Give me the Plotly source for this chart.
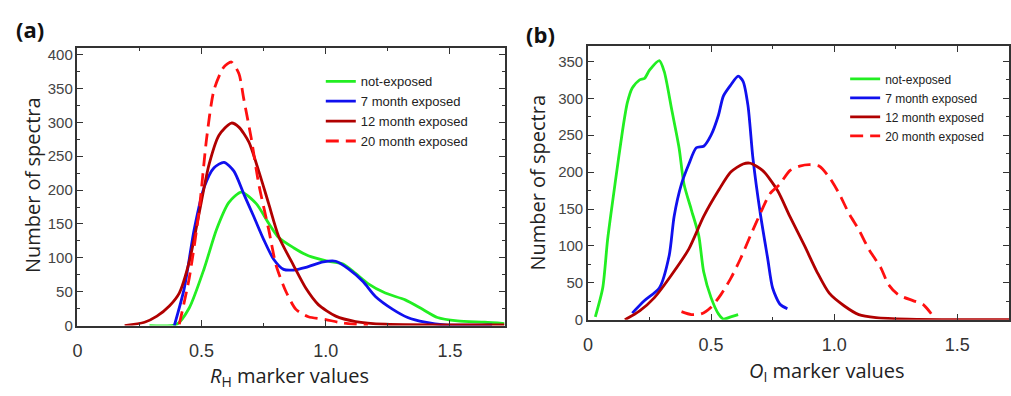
import plotly.graph_objects as go

W, H = 1011, 396

# ---------------- Panel (a): R_H marker values ----------------
a_green_x = [0.29, 0.40, 0.45, 0.51, 0.56, 0.61, 0.66, 0.72, 0.77, 0.81, 0.87, 0.93, 1.01, 1.07, 1.12, 1.17, 1.24, 1.32, 1.39, 1.45, 1.53, 1.64, 1.72]
a_green_y = [0, 2, 26, 84, 142, 182, 197, 180, 151, 130, 115, 103, 95, 91, 77, 62, 48, 38, 24, 12, 7, 5, 3]

a_blue_x = [0.39, 0.43, 0.47, 0.51, 0.55, 0.59, 0.63, 0.67, 0.71, 0.75, 0.79, 0.83, 0.87, 0.92, 0.99, 1.04, 1.09, 1.15, 1.20, 1.27, 1.33, 1.40, 1.48, 1.67]
a_blue_y = [0, 55, 142, 204, 233, 241, 228, 194, 161, 127, 98, 83, 82, 86, 94, 95, 84, 65, 43, 24, 12, 5, 1, 1]

a_dred_x = [0.19, 0.27, 0.32, 0.37, 0.41, 0.45, 0.49, 0.53, 0.57, 0.62, 0.65, 0.69, 0.73, 0.77, 0.81, 0.87, 0.92, 0.97, 1.04, 1.12, 1.24, 1.72]
a_dred_y = [0, 5, 14, 29, 48, 94, 166, 238, 281, 299, 293, 271, 228, 180, 132, 89, 55, 31, 14, 6, 2, 1]

a_red_x = [0.41, 0.45, 0.49, 0.52, 0.55, 0.59, 0.62, 0.65, 0.67, 0.70, 0.73, 0.77, 0.80, 0.84, 0.88, 0.93, 1.00, 1.05, 1.12, 1.17]
a_red_y = [2, 70, 170, 276, 348, 382, 389, 372, 334, 276, 209, 142, 89, 50, 24, 13, 9, 5, 2, 1]

# ---------------- Panel (b): O_I marker values ----------------
b_green_x = [0.03, 0.06, 0.08, 0.11, 0.14, 0.16, 0.18, 0.21, 0.23, 0.25, 0.29, 0.31, 0.34, 0.37, 0.39, 0.42, 0.45, 0.47, 0.50, 0.53, 0.55, 0.58, 0.61]
b_green_y = [4, 43, 109, 184, 255, 294, 314, 325, 327, 338, 351, 336, 285, 233, 184, 149, 114, 65, 30, 8, 1, 4, 7]

b_blue_x = [0.18, 0.23, 0.29, 0.33, 0.35, 0.38, 0.41, 0.44, 0.47, 0.50, 0.53, 0.55, 0.58, 0.61, 0.63, 0.65, 0.67, 0.70, 0.73, 0.75, 0.78, 0.81]
b_blue_y = [9, 26, 43, 87, 140, 184, 211, 233, 235, 250, 277, 303, 318, 330, 323, 290, 219, 144, 83, 43, 21, 15]

b_dred_x = [0.15, 0.21, 0.27, 0.34, 0.41, 0.47, 0.53, 0.58, 0.63, 0.66, 0.71, 0.77, 0.82, 0.88, 0.93, 0.98, 1.04, 1.10, 1.17, 1.30, 1.71]
b_dred_y = [0, 12, 30, 61, 96, 140, 175, 200, 211, 212, 202, 175, 140, 100, 65, 36, 19, 7, 3, 1, 0]

b_red_x = [0.38, 0.42, 0.46, 0.50, 0.54, 0.58, 0.62, 0.66, 0.70, 0.74, 0.78, 0.82, 0.86, 0.90, 0.94, 0.98, 1.02, 1.06, 1.10, 1.14, 1.19, 1.22, 1.26, 1.32, 1.36, 1.39, 1.41]
b_red_y = [11, 7, 8, 17, 34, 56, 83, 114, 144, 171, 184, 202, 208, 210, 208, 193, 171, 144, 122, 96, 70, 48, 34, 26, 21, 10, 0]

series_names = ["not-exposed", "7 month exposed", "12 month exposed", "20 month exposed"]
series_colors = ["#22ee22", "#1010ee", "#b00000", "#ff1010"]
series_dash = ["solid", "solid", "solid", "13px,7px"]

x_tickvals = [0, 0.5, 1.0, 1.5]
x_ticktext = ["0", "0.5", "1.0", "1.5"]
a_y_tickvals = [0, 50, 100, 150, 200, 250, 300, 350, 400]
b_y_tickvals = [0, 50, 100, 150, 200, 250, 300, 350]

fig = go.Figure()

a_data = [(a_green_x, a_green_y), (a_blue_x, a_blue_y), (a_dred_x, a_dred_y), (a_red_x, a_red_y)]
b_data = [(b_green_x, b_green_y), (b_blue_x, b_blue_y), (b_dred_x, b_dred_y), (b_red_x, b_red_y)]

for i, (xs, ys) in enumerate(a_data):
    fig.add_trace(go.Scatter(x=xs, y=ys, mode="lines", name=series_names[i],
                             line=dict(color=series_colors[i], width=2.8, dash=series_dash[i], shape="spline", smoothing=0.7),
                             xaxis="x", yaxis="y", legend="legend"))
for i, (xs, ys) in enumerate(b_data):
    fig.add_trace(go.Scatter(x=xs, y=ys, mode="lines", name=series_names[i],
                             line=dict(color=series_colors[i], width=2.8, dash=series_dash[i], shape="spline", smoothing=0.7),
                             xaxis="x2", yaxis="y2", legend="legend2"))

def px_x(p):
    return p / W

def px_y(p):
    return 1 - p / H

axis_common = dict(showline=True, linecolor="#333333", linewidth=1.5, mirror="ticks",
                   ticks="inside", ticklen=6, tickwidth=1.2, tickcolor="#333333",
                   showgrid=False, zeroline=False)

xfont = dict(family="Liberation Sans, Arial", size=18, color="#333333")
yfont = dict(family="Liberation Sans, Arial", size=15, color="#444444")

fig.update_layout(
    width=W, height=H, margin=dict(l=0, r=0, t=0, b=0),
    paper_bgcolor="white", plot_bgcolor="white",
    xaxis=dict(domain=[px_x(73), px_x(503)], range=[0, 1.72], anchor="y",
               tickvals=x_tickvals, ticktext=x_ticktext, tickfont=xfont, ticklabelstandoff=8,
               minor=dict(ticks="inside", ticklen=3, tickvals=[0.25, 0.75, 1.25], tickcolor="#333333"),
               **axis_common),
    yaxis=dict(domain=[px_y(332), px_y(47)], range=[0, 410], anchor="x",
               tickvals=a_y_tickvals, tickfont=yfont,
               minor=dict(ticks="inside", ticklen=3, dtick=25, tickcolor="#333333"),
               **axis_common),
    xaxis2=dict(domain=[px_x(587), 1.0], range=[0, 1.71], anchor="y2",
                tickvals=x_tickvals, ticktext=x_ticktext, tickfont=xfont, ticklabelstandoff=8,
                minor=dict(ticks="inside", ticklen=3, tickvals=[0.25, 0.75, 1.25], tickcolor="#333333"),
                **axis_common),
    yaxis2=dict(domain=[px_y(326), px_y(45)], range=[0, 371], anchor="x2",
                tickvals=b_y_tickvals, tickfont=yfont,
                minor=dict(ticks="inside", ticklen=3, dtick=25, tickcolor="#333333"),
                **axis_common),
    legend=dict(x=px_x(318), y=px_y(66), xanchor="left", yanchor="top",
                bgcolor="rgba(0,0,0,0)", font=dict(family="Liberation Sans, Arial", size=13, color="#222222"),
                tracegroupgap=0, itemwidth=30),
    legend2=dict(x=px_x(846), y=px_y(64), xanchor="left", yanchor="top",
                 bgcolor="rgba(0,0,0,0)", font=dict(family="Liberation Sans, Arial", size=12, color="#222222"),
                 tracegroupgap=0, itemwidth=30),
)

title_font = dict(family="Open Sans", size=20, color="#222222")

def label(x, y, text, font, angle=0):
    fig.add_annotation(x=px_x(x), y=px_y(y), xref="paper", yref="paper", showarrow=False,
                       xanchor="center", yanchor="middle", text=text, textangle=angle, font=font)

label(286, 384, "<i>R</i><sub>H</sub> marker values", title_font)
label(828, 379, "<i>O</i><sub>I</sub> marker values", title_font)
label(27, 188, "Number of spectra", title_font, -90)
label(536, 185, "Number of spectra", title_font, -90)
label(25, 28, "<b>(a)</b>", dict(family="Open Sans", size=22, color="#111111"))
label(539, 33, "<b>(b)</b>", dict(family="Open Sans", size=22, color="#111111"))

fig.write_html("out.html")
